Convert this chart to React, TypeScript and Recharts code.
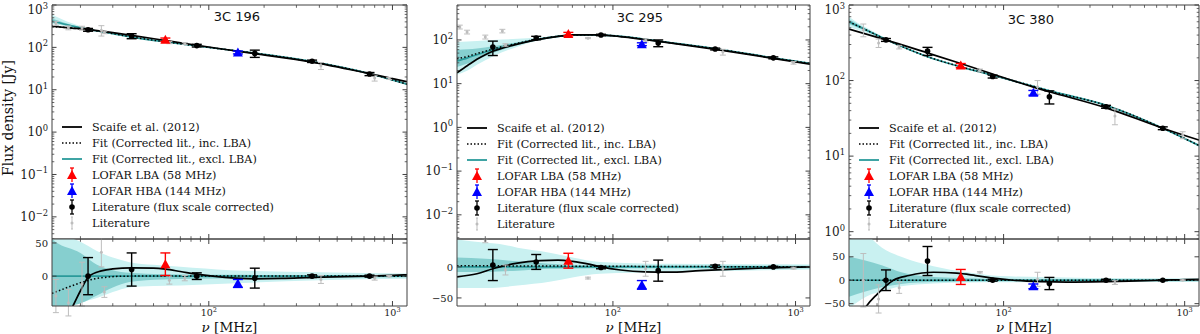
import React from 'react';
import { ComposedChart, XAxis, YAxis, Line, Area, Scatter, ErrorBar, Legend } from 'recharts';

const SERIF = '"DejaVu Serif", serif';
const SANS = '"DejaVu Sans", sans-serif';
const AXIS = '#404040';
const TEAL = '#2a9a9a';
const BAND_OUT = '#c9f1f1';
const BAND_IN = '#86cfcf';
const GRAY = '#bdbdbd';
const RED = '#ff0000';
const BLUE = '#0000ff';

const GUT_L = 52;
const PLOT_TOP = 5;
const PLOT_MID = 239;
const PLOT_BOT = 306;
const X_DOMAIN: [number, number] = [14, 1200];

// ---------- tick values ----------
const FREQ_TICKS = [20, 30, 40, 50, 60, 70, 80, 90, 100, 200, 300, 400, 500, 600, 700, 800, 900, 1000];
const DECADES = [-3, -2, -1, 0, 1, 2, 3];
const MULTS = [1, 2, 3, 4, 5, 6, 7, 8, 9];
const RES_TICKS_196 = [0, 50];
const RES_TICKS_295 = [-50, 0];
const RES_TICKS_380 = [-50, 0, 50];

const LEGEND_LABELS = [
  'Scaife et al. (2012)',
  'Fit (Corrected lit., inc. LBA)',
  'Fit (Corrected lit., excl. LBA)',
  'LOFAR LBA (58 MHz)',
  'LOFAR HBA (144 MHz)',
  'Literature (flux scale corrected)',
  'Literature',
];

// ---------- 3C 196 ----------
const c196Lit = [
  { f: 22, v: 260, e: 20 }, { f: 38, v: 185, e: 25 }, { f: 86, v: 110, e: 8 },
  { f: 178, v: 72, e: 14 }, { f: 365, v: 47, e: 3 }, { f: 750, v: 23.5, e: 2 },
];
const c196Lba = [{ f: 58, v: 152, e: 14 }];
const c196Hba = [{ f: 144, v: 76, e: 6 }];
const c196Raw = [
  { f: 14.7, v: 370, e: 40 }, { f: 17.2, v: 290, e: 30 }, { f: 20.4, v: 285, e: 30 },
  { f: 26, v: 255, e: 70 }, { f: 27, v: 225, e: 15 }, { f: 61, v: 130, e: 8 },
  { f: 74, v: 124, e: 6 }, { f: 408, v: 37, e: 7 }, { f: 800, v: 19, e: 3 }, { f: 960, v: 18.5, e: 1 },
];
const c196Scaife = [
  { f: 14, v: 315 }, { f: 18, v: 285 }, { f: 22, v: 262 }, { f: 30, v: 222 }, { f: 38, v: 192 },
  { f: 58, v: 145 }, { f: 86, v: 112 }, { f: 144, v: 81 }, { f: 178, v: 71 }, { f: 365, v: 45 },
  { f: 750, v: 24 }, { f: 1200, v: 15.5 },
];
const c196FitInc = [
  { f: 14, v: 310 }, { f: 18, v: 285 }, { f: 22, v: 262 }, { f: 30, v: 212 }, { f: 38, v: 176 },
  { f: 58, v: 135 }, { f: 86, v: 108 }, { f: 144, v: 82 }, { f: 178, v: 73 }, { f: 365, v: 46 },
  { f: 750, v: 24 }, { f: 1200, v: 13.5 },
];
const c196FitExc = [
  { f: 14, v: 420 }, { f: 18, v: 320 }, { f: 22, v: 268 }, { f: 30, v: 210 }, { f: 38, v: 175 },
  { f: 58, v: 135 }, { f: 86, v: 108 }, { f: 144, v: 82 }, { f: 178, v: 73 }, { f: 365, v: 46 },
  { f: 750, v: 24 }, { f: 1200, v: 13.5 },
];
const c196BandOut = [
  { f: 14, lo: 350, hi: 600 }, { f: 18, lo: 300, hi: 370 }, { f: 22, lo: 258, hi: 280 },
  { f: 30, lo: 205, hi: 215 }, { f: 38, lo: 171, hi: 179 }, { f: 58, lo: 132, hi: 138 },
  { f: 86, lo: 106, hi: 110 }, { f: 144, lo: 80, hi: 84 }, { f: 365, lo: 45, hi: 47.5 },
  { f: 750, lo: 23.3, hi: 24.8 }, { f: 1200, lo: 13, hi: 14.2 },
];
const c196BandIn = [
  { f: 14, lo: 380, hi: 480 }, { f: 18, lo: 308, hi: 335 }, { f: 22, lo: 263, hi: 274 },
  { f: 30, lo: 208, hi: 212 }, { f: 38, lo: 173, hi: 177 }, { f: 58, lo: 134, hi: 136 },
  { f: 86, lo: 107, hi: 109 }, { f: 144, lo: 81, hi: 83 }, { f: 365, lo: 45.6, hi: 46.4 },
  { f: 750, lo: 23.8, hi: 24.2 }, { f: 1200, lo: 13.3, hi: 13.7 },
];
const c196ResLit = [
  { f: 22, v: 0, e: 28 }, { f: 38, v: 10, e: 25 }, { f: 86, v: 0, e: 5 },
  { f: 178, v: -3, e: 15 }, { f: 365, v: 0, e: 2 }, { f: 750, v: 0, e: 1.5 },
];
const c196ResLba = [{ f: 58, v: 18, e: 17 }];
const c196ResHba = [{ f: 144, v: -11, e: 6 }];
const c196ResRaw = [
  { f: 14.7, v: -30, e: 25 }, { f: 17.2, v: -40, e: 20 }, { f: 20.4, v: -12, e: 33 },
  { f: 26, v: 36, e: 22 }, { f: 27, v: -24, e: 8 }, { f: 61, v: -6, e: 6 }, { f: 74, v: -3, e: 4 },
  { f: 408, v: -5, e: 6 }, { f: 800, v: -3, e: 3 }, { f: 960, v: 0, e: 1 },
];
const c196ResScaife = [
  { f: 14, v: -100 }, { f: 16, v: -72 }, { f: 18.2, v: -45 }, { f: 20, v: -22 }, { f: 22.3, v: 0 },
  { f: 26, v: 8 }, { f: 30, v: 11 }, { f: 38, v: 12.5 }, { f: 50, v: 12 }, { f: 58, v: 10.5 },
  { f: 70, v: 7 }, { f: 86, v: 3 }, { f: 105, v: 0 }, { f: 140, v: -3 }, { f: 178, v: -4 },
  { f: 250, v: -3.5 }, { f: 365, v: -2 }, { f: 550, v: -0.8 }, { f: 750, v: 0 }, { f: 1000, v: 1.2 },
  { f: 1200, v: 2 },
];
const c196ResFitInc = [
  { f: 14, v: -26 }, { f: 17, v: -17 }, { f: 20, v: -10 }, { f: 24, v: -4 }, { f: 28, v: -1.5 },
  { f: 35, v: 0 }, { f: 100, v: 0.3 }, { f: 1200, v: 0 },
];
const c196ResFitExc = [{ f: 14, v: 0 }, { f: 1200, v: 0 }];
const c196ResBandOut = [
  { f: 14, lo: -60, hi: 70 }, { f: 16, lo: -50, hi: 62 }, { f: 20, lo: -40, hi: 52 },
  { f: 24.6, lo: -33, hi: 38 }, { f: 30, lo: -24, hi: 28 }, { f: 37, lo: -17, hi: 21 },
  { f: 50, lo: -15, hi: 17 }, { f: 70, lo: -14, hi: 14 }, { f: 130, lo: -11, hi: 9 },
  { f: 400, lo: -6, hi: 6 }, { f: 1200, lo: -4, hi: 4 },
];
const c196ResBandIn = [
  { f: 14, lo: -55, hi: 56 }, { f: 14.6, lo: -52, hi: 52 }, { f: 20, lo: -41, hi: 35 },
  { f: 24.6, lo: -29, hi: 17 }, { f: 30, lo: -17, hi: 9 }, { f: 37, lo: -9, hi: 5 },
  { f: 56, lo: -5, hi: 3 }, { f: 130, lo: -3, hi: 2 }, { f: 1200, lo: -1.5, hi: 1.5 },
];

// ---------- 3C 295 ----------
const c295Lit = [
  { f: 22, v: 69, e: 25 }, { f: 38, v: 111, e: 10 }, { f: 86, v: 130, e: 5 },
  { f: 177, v: 85, e: 15 }, { f: 363, v: 62, e: 3 }, { f: 756, v: 39, e: 2 },
];
const c295Lba = [{ f: 57, v: 137, e: 12 }];
const c295Hba = [{ f: 144, v: 80, e: 6 }];
const c295Raw = [
  { f: 14.5, v: 198, e: 20 }, { f: 15.9, v: 152, e: 15 }, { f: 20, v: 117, e: 12 },
  { f: 24.8, v: 160, e: 15 }, { f: 25.8, v: 77, e: 5 }, { f: 73, v: 110, e: 3 },
  { f: 151, v: 98, e: 8 }, { f: 400, v: 53, e: 8 }, { f: 975, v: 30, e: 2 },
];
const c295Scaife = [
  { f: 14, v: 17.7 }, { f: 16, v: 26 }, { f: 18, v: 36 }, { f: 20, v: 46 }, { f: 22, v: 55 },
  { f: 30, v: 80 }, { f: 38, v: 100 }, { f: 50, v: 121 }, { f: 60, v: 130 }, { f: 80, v: 131 },
  { f: 100, v: 124 }, { f: 144, v: 104 }, { f: 200, v: 87 }, { f: 365, v: 61 }, { f: 750, v: 38 },
  { f: 1200, v: 28 },
];
const c295FitInc = [
  { f: 14, v: 37 }, { f: 16, v: 42 }, { f: 18, v: 49 }, { f: 20, v: 55 }, { f: 22, v: 62 },
  { f: 30, v: 84 }, { f: 38, v: 103 }, { f: 50, v: 121 }, { f: 60, v: 129 }, { f: 80, v: 131 },
  { f: 100, v: 125 }, { f: 144, v: 106 }, { f: 200, v: 88 }, { f: 365, v: 63 }, { f: 750, v: 39 },
  { f: 1200, v: 29 },
];
const c295FitExc = [
  { f: 14, v: 33 }, { f: 16, v: 39 }, { f: 18, v: 46 }, { f: 20, v: 53 }, { f: 22, v: 60 },
  { f: 30, v: 82 }, { f: 38, v: 102 }, { f: 50, v: 121 }, { f: 60, v: 129 }, { f: 80, v: 131 },
  { f: 100, v: 125 }, { f: 144, v: 106 }, { f: 200, v: 88 }, { f: 365, v: 63 }, { f: 750, v: 39 },
  { f: 1200, v: 29 },
];
const c295BandOut = [
  { f: 14, lo: 16, hi: 90 }, { f: 16, lo: 20, hi: 92 }, { f: 18, lo: 27, hi: 95 },
  { f: 22, lo: 42, hi: 100 }, { f: 30, lo: 70, hi: 106 }, { f: 38, lo: 94, hi: 112 },
  { f: 50, lo: 116, hi: 127 }, { f: 60, lo: 125, hi: 134 }, { f: 100, lo: 121, hi: 129 },
  { f: 200, lo: 85, hi: 91 }, { f: 365, lo: 61, hi: 65 }, { f: 750, lo: 37.5, hi: 40.5 },
  { f: 1200, lo: 27.5, hi: 30.5 },
];
const c295BandIn = [
  { f: 14, lo: 24, hi: 59 }, { f: 16, lo: 29, hi: 61 }, { f: 18, lo: 35, hi: 64 },
  { f: 22, lo: 50, hi: 72 }, { f: 30, lo: 76, hi: 89 }, { f: 38, lo: 98, hi: 107 },
  { f: 50, lo: 119, hi: 124 }, { f: 60, lo: 127, hi: 131 }, { f: 100, lo: 123, hi: 127 },
  { f: 200, lo: 87, hi: 89.5 }, { f: 365, lo: 62, hi: 64 }, { f: 750, lo: 38.5, hi: 39.5 },
  { f: 1200, lo: 28.5, hi: 29.5 },
];
const c295ResLit = [
  { f: 22, v: 3, e: 25 }, { f: 38, v: 8, e: 12 }, { f: 86, v: -1, e: 2 },
  { f: 177, v: -6, e: 17 }, { f: 363, v: 1, e: 2 }, { f: 756, v: 0, e: 1 },
];
const c295ResLba = [{ f: 57, v: 10, e: 12 }];
const c295ResHba = [{ f: 144, v: -29, e: 7 }];
const c295ResRaw = [
  { f: 20, v: 42, e: 3 }, { f: 25.8, v: -5, e: 8 }, { f: 73, v: -18, e: 1.5 },
  { f: 151, v: -3, e: 12 }, { f: 400, v: -3, e: 12 }, { f: 975, v: -2, e: 1.5 },
];
const c295ResScaife = [
  { f: 14, v: -16 }, { f: 18, v: -11 }, { f: 22, v: -3 }, { f: 24, v: 0 }, { f: 30, v: 6 },
  { f: 40, v: 10 }, { f: 50, v: 11 }, { f: 60, v: 9 }, { f: 75, v: 4 }, { f: 86, v: 0 },
  { f: 110, v: -5 }, { f: 150, v: -8 }, { f: 200, v: -8.5 }, { f: 300, v: -6 }, { f: 500, v: -3 },
  { f: 800, v: -1 }, { f: 1200, v: 0 },
];
const c295ResFitInc = [{ f: 14, v: 2 }, { f: 100, v: 1 }, { f: 1200, v: 0 }];
const c295ResFitExc = [{ f: 14, v: 0 }, { f: 1200, v: 0 }];
const c295ResBandOut = [
  { f: 14, lo: -34, hi: 44 }, { f: 20, lo: -34, hi: 39 }, { f: 24, lo: -33, hi: 37 },
  { f: 30, lo: -30, hi: 31 }, { f: 45, lo: -24, hi: 23 }, { f: 60, lo: -17, hi: 15 },
  { f: 85, lo: -11, hi: 8 }, { f: 200, lo: -8, hi: 5 }, { f: 500, lo: -6, hi: 4.5 },
  { f: 1200, lo: -4, hi: 4 },
];
const c295ResBandIn = [
  { f: 14, lo: -8, hi: 15 }, { f: 20, lo: -8, hi: 13 }, { f: 30, lo: -6, hi: 9 },
  { f: 45, lo: -3, hi: 5 }, { f: 85, lo: -2, hi: 2.5 }, { f: 1200, lo: -2, hi: 2 },
];

// ---------- 3C 380 ----------
const c380Lit = [
  { f: 22.4, v: 345, e: 15 }, { f: 38, v: 245, e: 30 }, { f: 87, v: 113, e: 5 },
  { f: 179, v: 61, e: 12 }, { f: 368, v: 45, e: 2 }, { f: 757, v: 23.4, e: 1 },
];
const c380Lba = [{ f: 58, v: 158, e: 10 }];
const c380Hba = [{ f: 146, v: 69, e: 5 }];
const c380Raw = [
  { f: 16.8, v: 470, e: 90 }, { f: 20.4, v: 314, e: 40 }, { f: 26.5, v: 277, e: 15 },
  { f: 74, v: 136, e: 6 }, { f: 154, v: 83, e: 17 }, { f: 412, v: 34, e: 8 }, { f: 975, v: 19, e: 2 },
];
const c380Scaife = [
  { f: 14, v: 480 }, { f: 22.4, v: 345 }, { f: 38, v: 232 }, { f: 58, v: 168 }, { f: 87, v: 122 },
  { f: 146, v: 82 }, { f: 179, v: 71 }, { f: 368, v: 43.5 }, { f: 757, v: 23.4 }, { f: 1200, v: 16.3 },
];
const c380FitInc = [
  { f: 14, v: 600 }, { f: 18, v: 450 }, { f: 22.4, v: 350 }, { f: 30, v: 258 }, { f: 38, v: 207 },
  { f: 58, v: 152 }, { f: 87, v: 118 }, { f: 146, v: 84 }, { f: 179, v: 73 }, { f: 368, v: 47 },
  { f: 757, v: 23.4 }, { f: 1200, v: 13.8 },
];
const c380FitExc = [
  { f: 14, v: 600 }, { f: 18, v: 450 }, { f: 22.4, v: 350 }, { f: 30, v: 258 }, { f: 38, v: 207 },
  { f: 58, v: 152 }, { f: 87, v: 118 }, { f: 146, v: 84 }, { f: 179, v: 73 }, { f: 368, v: 47 },
  { f: 757, v: 23.4 }, { f: 1200, v: 13.8 },
];
const c380BandOut = [
  { f: 14, lo: 515, hi: 700 }, { f: 16, lo: 460, hi: 560 }, { f: 18, lo: 420, hi: 480 },
  { f: 22.4, lo: 338, hi: 362 }, { f: 30, lo: 252, hi: 264 }, { f: 38, lo: 203, hi: 211 },
  { f: 58, lo: 149, hi: 155 }, { f: 87, lo: 116, hi: 120 }, { f: 146, lo: 82.5, hi: 85.5 },
  { f: 368, lo: 46, hi: 48 }, { f: 757, lo: 22.9, hi: 23.9 }, { f: 1200, lo: 13.3, hi: 14.3 },
];
const c380BandIn = [
  { f: 14, lo: 560, hi: 650 }, { f: 18, lo: 435, hi: 465 }, { f: 22.4, lo: 344, hi: 356 },
  { f: 30, lo: 255, hi: 261 }, { f: 38, lo: 205, hi: 209 }, { f: 58, lo: 151, hi: 153 },
  { f: 87, lo: 117, hi: 119 }, { f: 146, lo: 83.3, hi: 84.7 }, { f: 368, lo: 46.6, hi: 47.4 },
  { f: 757, lo: 23.2, hi: 23.6 }, { f: 1200, lo: 13.6, hi: 14 },
];
const c380ResLit = [
  { f: 22.4, v: 0, e: 22 }, { f: 38, v: 41, e: 31 }, { f: 87, v: 0, e: 2 },
  { f: 179, v: -7, e: 13 }, { f: 368, v: 0, e: 2 }, { f: 757, v: 0, e: 1 },
];
const c380ResLba = [{ f: 58, v: 7, e: 16 }];
const c380ResHba = [{ f: 146, v: -13, e: 5 }];
const c380ResRaw = [
  { f: 16.8, v: 0, e: 57 }, { f: 20.4, v: -40, e: 30 }, { f: 26.5, v: -16, e: 12 },
  { f: 74, v: 17, e: 1.5 }, { f: 154, v: 2, e: 15 }, { f: 412, v: -5, e: 4 }, { f: 975, v: 0, e: 1 },
];
const c380ResScaife = [
  { f: 14, v: -110 }, { f: 16, v: -80 }, { f: 17.5, v: -55 }, { f: 20, v: -30 }, { f: 22.4, v: -12 },
  { f: 24.6, v: 0 }, { f: 30, v: 10 }, { f: 41, v: 17 }, { f: 55, v: 15 }, { f: 70, v: 10 },
  { f: 90, v: 4 }, { f: 113, v: 0 }, { f: 160, v: -3 }, { f: 224, v: -4 }, { f: 368, v: -3 },
  { f: 550, v: -1.5 }, { f: 757, v: 0 }, { f: 1000, v: 1.5 }, { f: 1200, v: 2 },
];
const c380ResFitInc = [{ f: 14, v: 0 }, { f: 1200, v: 0 }];
const c380ResFitExc = [{ f: 14, v: 0 }, { f: 1200, v: 0 }];
const c380ResBandOut = [
  { f: 14, lo: -60, hi: 130 }, { f: 18.6, lo: -30, hi: 89 }, { f: 21.2, lo: -24, hi: 70 },
  { f: 27.2, lo: -13, hi: 50 }, { f: 41, lo: -7, hi: 30 }, { f: 63, lo: -5, hi: 17 },
  { f: 96, lo: -4.5, hi: 9 }, { f: 300, lo: -4, hi: 5 }, { f: 1200, lo: -4, hi: 4 },
];
const c380ResBandIn = [
  { f: 14, lo: -35, hi: 50 }, { f: 21.2, lo: -15, hi: 32 }, { f: 27.2, lo: -8, hi: 17 },
  { f: 41, lo: -4, hi: 7 }, { f: 100, lo: -2, hi: 3 }, { f: 1200, lo: -2, hi: 2 },
];

// ---------- panel configs ----------
const PANELS = [
  {
    name: '3C 196', left: 52, width: 355, yDomain: [3e-3, 1000], resDomain: [-45, 56], resTicks: RES_TICKS_196,
    title: { x: 237, y: 21 }, legendTop: 119, yLabel: true,
    top: { lit: c196Lit, lba: c196Lba, hba: c196Hba, raw: c196Raw, scaife: c196Scaife, fitInc: c196FitInc, fitExc: c196FitExc, bandOut: c196BandOut, bandIn: c196BandIn },
    res: { lit: c196ResLit, lba: c196ResLba, hba: c196ResHba, raw: c196ResRaw, scaife: c196ResScaife, fitInc: c196ResFitInc, fitExc: c196ResFitExc, bandOut: c196ResBandOut, bandIn: c196ResBandIn },
  },
  {
    name: '3C 295', left: 457, width: 353, yDomain: [2.8e-3, 630], resDomain: [-63, 45], resTicks: RES_TICKS_295,
    title: { x: 640, y: 22 }, legendTop: 120, yLabel: false,
    top: { lit: c295Lit, lba: c295Lba, hba: c295Hba, raw: c295Raw, scaife: c295Scaife, fitInc: c295FitInc, fitExc: c295FitExc, bandOut: c295BandOut, bandIn: c295BandIn },
    res: { lit: c295ResLit, lba: c295ResLba, hba: c295ResHba, raw: c295ResRaw, scaife: c295ResScaife, fitInc: c295ResFitInc, fitExc: c295ResFitExc, bandOut: c295ResBandOut, bandIn: c295ResBandIn },
  },
  {
    name: '3C 380', left: 849, width: 350, yDomain: [0.8, 1000], resDomain: [-55, 88], resTicks: RES_TICKS_380,
    title: { x: 1031, y: 24 }, legendTop: 120, yLabel: false,
    top: { lit: c380Lit, lba: c380Lba, hba: c380Hba, raw: c380Raw, scaife: c380Scaife, fitInc: c380FitInc, fitExc: c380FitExc, bandOut: c380BandOut, bandIn: c380BandIn },
    res: { lit: c380ResLit, lba: c380ResLba, hba: c380ResHba, raw: c380ResRaw, scaife: c380ResScaife, fitInc: c380ResFitInc, fitExc: c380ResFitExc, bandOut: c380ResBandOut, bandIn: c380ResBandIn },
  },
];

// ---------- helpers ----------
const isDecade = (v: number) => {
  const l = Math.log10(Math.abs(v));
  return Math.abs(l - Math.round(l)) < 1e-6;
};
const expOf = (v: number) => Math.round(Math.log10(v));
const fmtExp = (n: number) => (n < 0 ? '\u2212' + Math.abs(n) : String(n));
const logTicks = (dom: number[]) => {
  const out: number[] = [];
  DECADES.forEach((d) => MULTS.forEach((m) => {
    const v = m * Math.pow(10, d);
    if (v >= dom[0] * 0.9999 && v <= dom[1] * 1.0001) out.push(v);
  }));
  return out;
};
const bandKey = (d: any) => [d.lo, d.hi];

function PowTen({ x, y, exp, size, anchor }: any) {
  return (
    <text x={x} y={y} textAnchor={anchor} fontFamily={SERIF} fontSize={size} fill="#1a1a1a">
      10<tspan dy={-size * 0.45} fontSize={size * 0.7}>{fmtExp(exp)}</tspan>
    </text>
  );
}

const xTick = (side: string, labels: boolean) => (p: any) => {
  const v = p.payload.value;
  const maj = isDecade(v);
  const len = maj ? 5 : 2.8;
  const d = side === 'bottom' ? -1 : 1;
  return (
    <g>
      <line x1={p.x} x2={p.x} y1={p.y} y2={p.y + d * len} stroke={AXIS} strokeWidth={maj ? 1 : 0.8} />
      {labels && maj ? <PowTen x={p.x} y={p.y + 10} exp={expOf(v)} size={9.5} anchor="middle" /> : null}
    </g>
  );
};

const yLogTick = (side: string, labels: boolean) => (p: any) => {
  const v = p.payload.value;
  const maj = isDecade(v);
  const len = maj ? 4.5 : 2.3;
  const d = side === 'left' ? 1 : -1;
  return (
    <g>
      <line x1={p.x} x2={p.x + d * len} y1={p.y} y2={p.y} stroke={AXIS} strokeWidth={maj ? 1 : 0.8} />
      {labels && maj ? <PowTen x={p.x - 4} y={Math.max(p.y + 4.3, 14)} exp={expOf(v)} size={12} anchor="end" /> : null}
    </g>
  );
};

const yLinTick = (side: string, labels: boolean) => (p: any) => {
  const v = p.payload.value;
  const d = side === 'left' ? 1 : -1;
  return (
    <g>
      <line x1={p.x} x2={p.x + d * 4.5} y1={p.y} y2={p.y} stroke={AXIS} strokeWidth={1} />
      {labels ? (
        <text x={p.x - 4} y={p.y + 3.6} textAnchor="end" fontFamily={SERIF} fontSize={10} fill="#1a1a1a">
          {v < 0 ? '\u2212' + Math.abs(v) : String(v)}
        </text>
      ) : null}
    </g>
  );
};

const dotShape = (r: number, fill: string) => (p: any) => <circle cx={p.cx} cy={p.cy} r={r} fill={fill} />;
const triShape = (fill: string) => (p: any) => {
  const { cx, cy } = p;
  return <polygon points={`${cx - 5},${cy + 4} ${cx + 5},${cy + 4} ${cx},${cy - 5}`} fill={fill} />;
};

function LegendSymbol({ i }: { i: number }) {
  const y = 8;
  if (i === 0) return <line x1={0} x2={20} y1={y} y2={y} stroke="#000" strokeWidth={1.8} />;
  if (i === 1) return <line x1={0} x2={20} y1={y} y2={y} stroke="#000" strokeWidth={1.5} strokeDasharray="1.5 2" />;
  if (i === 2) return <line x1={0} x2={20} y1={y} y2={y} stroke={TEAL} strokeWidth={1.8} />;
  if (i === 3 || i === 4) {
    const c = i === 3 ? RED : BLUE;
    return (
      <g>
        <line x1={10} x2={10} y1={1} y2={15} stroke={c} strokeWidth={1.3} />
        <line x1={8} x2={12} y1={1} y2={1} stroke={c} strokeWidth={1.3} />
        <polygon points="5,12 15,12 10,3" fill={c} />
      </g>
    );
  }
  if (i === 5) {
    return (
      <g>
        <line x1={10} x2={10} y1={1} y2={15} stroke="#000" strokeWidth={1.3} />
        <line x1={8} x2={12} y1={1} y2={1} stroke="#000" strokeWidth={1.3} />
        <line x1={8} x2={12} y1={15} y2={15} stroke="#000" strokeWidth={1.3} />
        <circle cx={10} cy={y} r={2.8} fill="#000" />
      </g>
    );
  }
  return (
    <g>
      <line x1={10} x2={10} y1={2} y2={14} stroke={GRAY} strokeWidth={1} />
      <line x1={9} x2={11} y1={2} y2={2} stroke={GRAY} strokeWidth={1} />
      <line x1={9} x2={11} y1={14} y2={14} stroke={GRAY} strokeWidth={1} />
      <circle cx={10} cy={y} r={1.5} fill={GRAY} />
    </g>
  );
}

function LegendBox() {
  return (
    <div style={{ fontFamily: SERIF, fontSize: 11.2, color: '#111' }}>
      {LEGEND_LABELS.map((lab, i) => (
        <div key={lab} style={{ display: 'flex', alignItems: 'center', height: 16, whiteSpace: 'nowrap' }}>
          <svg width={30} height={16} style={{ display: 'block', flex: '0 0 30px' }}>
            <LegendSymbol i={i} />
          </svg>
          <span>{lab}</span>
        </div>
      ))}
    </div>
  );
}

function Series({ s }: any) {
  const lw = 1.7;
  return [
    <Area key="bo" data={s.bandOut} dataKey={bandKey} type="monotone" stroke="none" fill={BAND_OUT} fillOpacity={1} isAnimationActive={false} />,
    <Area key="bi" data={s.bandIn} dataKey={bandKey} type="monotone" stroke="none" fill={BAND_IN} fillOpacity={1} isAnimationActive={false} />,
    <Line key="fe" data={s.fitExc} dataKey="v" type="monotone" stroke={TEAL} strokeWidth={lw} dot={false} activeDot={false} isAnimationActive={false} />,
    <Line key="fi" data={s.fitInc} dataKey="v" type="monotone" stroke="#000" strokeWidth={1.5} strokeDasharray="1.5 2.2" dot={false} activeDot={false} isAnimationActive={false} />,
    <Line key="sc" data={s.scaife} dataKey="v" type="monotone" stroke="#000" strokeWidth={lw} dot={false} activeDot={false} isAnimationActive={false} />,
    <Scatter key="raw" data={s.raw} dataKey="v" shape={dotShape(1.5, GRAY)} isAnimationActive={false}>
      <ErrorBar dataKey="e" direction="y" width={3} stroke={GRAY} strokeWidth={1} />
    </Scatter>,
    <Scatter key="lit" data={s.lit} dataKey="v" shape={dotShape(2.8, '#000')} isAnimationActive={false}>
      <ErrorBar dataKey="e" direction="y" width={5} stroke="#000" strokeWidth={1.4} />
    </Scatter>,
    <Scatter key="lba" data={s.lba} dataKey="v" shape={triShape(RED)} isAnimationActive={false}>
      <ErrorBar dataKey="e" direction="y" width={5} stroke={RED} strokeWidth={1.4} />
    </Scatter>,
    <Scatter key="hba" data={s.hba} dataKey="v" shape={triShape(BLUE)} isAnimationActive={false}>
      <ErrorBar dataKey="e" direction="y" width={5} stroke={BLUE} strokeWidth={1.4} />
    </Scatter>,
  ];
}

function Panel({ cfg }: any) {
  const chartW = GUT_L + cfg.width + 2;
  const yTicks = logTicks(cfg.yDomain);
  const titleContent = () => (
    <text x={GUT_L + (cfg.title.x - cfg.left)} y={cfg.title.y} textAnchor="middle" fontFamily={SANS} fontSize={13} fill="#111">
      {cfg.name}
    </text>
  );
  const yLabelContent = () =>
    cfg.yLabel ? (
      <text x={13} y={118} transform="rotate(-90 13 118)" textAnchor="middle" fontFamily={SERIF} fontSize={14} fill="#111">
        Flux density [Jy]
      </text>
    ) : null;
  const xLabelContent = () => (
    <text x={GUT_L + cfg.width / 2} y={331.5 - (PLOT_MID - 1)} textAnchor="middle" fontFamily={SERIF} fontSize={13.5} fill="#111">
      <tspan fontStyle="italic">{'\u03bd'}</tspan> [MHz]
    </text>
  );
  const top = cfg.top;
  const res = cfg.res;
  return (
    <>
      <div style={{ position: 'absolute', left: cfg.left - GUT_L, top: 0 }}>
        <ComposedChart width={chartW} height={PLOT_MID + 1} margin={{ top: 0, right: 0, bottom: 0, left: 0 }}>
          <XAxis dataKey="f" type="number" scale="log" domain={X_DOMAIN} allowDataOverflow ticks={FREQ_TICKS} interval={0}
            height={1} tickSize={0} tickMargin={0} tickLine={false} axisLine={{ stroke: AXIS, strokeWidth: 1 }} tick={xTick('bottom', false)} />
          <XAxis xAxisId="t" orientation="top" dataKey="f" type="number" scale="log" domain={X_DOMAIN} allowDataOverflow ticks={FREQ_TICKS} interval={0}
            height={PLOT_TOP} tickSize={0} tickMargin={0} tickLine={false} axisLine={{ stroke: AXIS, strokeWidth: 1 }} tick={xTick('top', false)}
            label={{ content: titleContent }} />
          <YAxis type="number" scale="log" domain={cfg.yDomain} allowDataOverflow ticks={yTicks} interval={0}
            width={GUT_L} tickSize={0} tickMargin={0} tickLine={false} axisLine={{ stroke: AXIS, strokeWidth: 1 }} tick={yLogTick('left', true)}
            label={{ content: yLabelContent }} />
          <YAxis yAxisId="r" orientation="right" type="number" scale="log" domain={cfg.yDomain} allowDataOverflow ticks={yTicks} interval={0}
            width={2} tickSize={0} tickMargin={0} tickLine={false} axisLine={{ stroke: AXIS, strokeWidth: 1 }} tick={yLogTick('right', false)} />
          {Series({ s: top })}
          <Legend layout="vertical" align="center" verticalAlign="middle" content={() => <LegendBox />}
            wrapperStyle={{ left: GUT_L + 10, top: cfg.legendTop, width: 'auto', height: 'auto' }} />
        </ComposedChart>
      </div>
      <div style={{ position: 'absolute', left: cfg.left - GUT_L, top: PLOT_MID - 1 }}>
        <ComposedChart width={chartW} height={334 - (PLOT_MID - 1)} margin={{ top: 0, right: 0, bottom: 0, left: 0 }}>
          <XAxis dataKey="f" type="number" scale="log" domain={X_DOMAIN} allowDataOverflow ticks={FREQ_TICKS} interval={0}
            height={334 - PLOT_BOT} tickSize={0} tickMargin={0} tickLine={false} axisLine={{ stroke: AXIS, strokeWidth: 1 }} tick={xTick('bottom', true)}
            label={{ content: xLabelContent }} />
          <XAxis xAxisId="t" orientation="top" dataKey="f" type="number" scale="log" domain={X_DOMAIN} allowDataOverflow ticks={FREQ_TICKS} interval={0}
            height={1} tickSize={0} tickMargin={0} tickLine={false} axisLine={{ stroke: AXIS, strokeWidth: 1 }} tick={xTick('top', false)} />
          <YAxis type="number" domain={cfg.resDomain} allowDataOverflow ticks={cfg.resTicks} interval={0}
            width={GUT_L} tickSize={0} tickMargin={0} tickLine={false} axisLine={{ stroke: AXIS, strokeWidth: 1 }} tick={yLinTick('left', true)} />
          <YAxis yAxisId="r" orientation="right" type="number" domain={cfg.resDomain} allowDataOverflow ticks={cfg.resTicks} interval={0}
            width={2} tickSize={0} tickMargin={0} tickLine={false} axisLine={{ stroke: AXIS, strokeWidth: 1 }} tick={yLinTick('right', false)} />
          {Series({ s: res })}
        </ComposedChart>
      </div>
    </>
  );
}

export default function App() {
  return (
    <div style={{ position: 'absolute', left: 0, top: 0, width: 1200, height: 334, background: '#fff', overflow: 'hidden' }}>
      {PANELS.map((c) => (
        <Panel key={c.name} cfg={c} />
      ))}
    </div>
  );
}
